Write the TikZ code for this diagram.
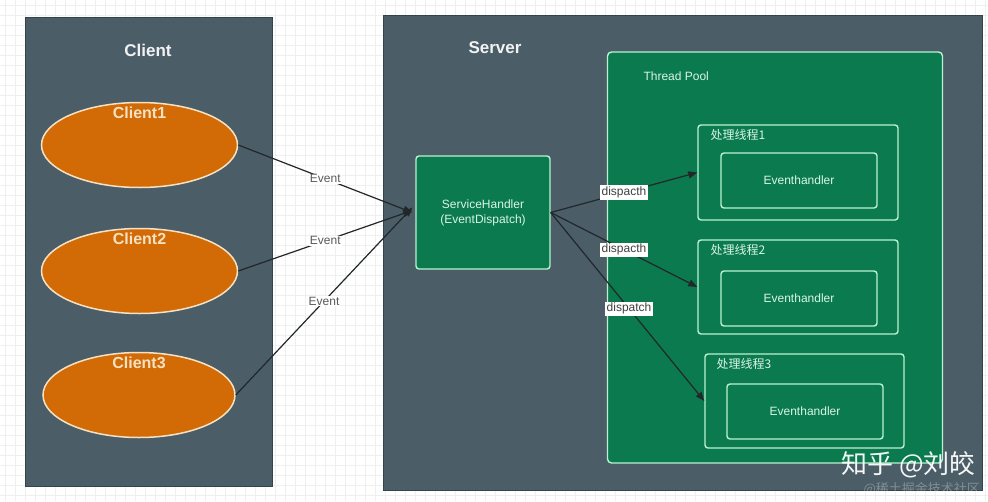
\documentclass[tikz,border=0pt]{standalone}
\usepackage{fontspec}
\usepackage{tikz}
\usetikzlibrary{arrows.meta,shapes.geometric,positioning}
\setmainfont{Liberation Sans}
\newfontfamily\cjk{Noto Sans CJK SC}
\definecolor{Slate}{HTML}{4B5D67}
\definecolor{SlateEdge}{HTML}{35434A}
\definecolor{Pumpkin}{HTML}{D26A06}
\definecolor{Cream}{HTML}{F6E2C2}
\definecolor{PoolGreen}{HTML}{0B7A4E}
\definecolor{Mint}{HTML}{B8F2D2}
\definecolor{MintText}{HTML}{D8F6E6}
\definecolor{Paper}{HTML}{EFEFEF}
\definecolor{Ink}{HTML}{22272A}

\begin{document}
\begin{tikzpicture}[x=1pt,y=-1pt,
    gridline/.style={draw=Paper,line width=0.5pt},
    panel/.style={draw=SlateEdge,fill=Slate,line width=1pt,inner sep=0pt},
    paneltitle/.style={text=white!92!Slate,font=\fontsize{17}{20}\selectfont\bfseries},
    client/.style={ellipse,draw=Cream,fill=Pumpkin,line width=1.5pt,minimum width=196pt,minimum height=85pt,inner sep=0pt},
    clientname/.style={anchor=north,text=Cream,font=\fontsize{16}{19}\selectfont\bfseries,inner sep=0pt},
    greenbox/.style={draw=Mint,fill=PoolGreen,line width=1.4pt,rounded corners=3pt,inner sep=0pt},
    greentext/.style={text=MintText,font=\fontsize{12}{15}\selectfont},
    flow/.style={draw=Ink,line width=1.2pt,-{Triangle[length=9pt,width=7pt]}},
    evlabel/.style={fill=white,text=black!65,inner sep=1pt,font=\fontsize{12}{14}\selectfont},
    dplabel/.style={fill=white,text=black!75,inner sep=1.5pt,font=\fontsize{12}{14}\selectfont}]
  \useasboundingbox (0,0) rectangle (988,501);
  \fill[white] (0,0) rectangle (988,501);
  % canvas grid
  \foreach \gx in {5,15,...,985} \draw[gridline] (\gx,0) -- (\gx,501);
  \foreach \gy in {5,15,...,495} \draw[gridline] (0,\gy) -- (988,\gy);

  % client side
  \node[panel,minimum width=247pt,minimum height=469pt] (clientpanel) at (148.5,252) {};
  \node[paneltitle] (clienttitle) at (148,50) {Client};
  \node[client] (c1) at (139.5,145) {};
  \node[client] (c2) at (139.5,271) {};
  \node[client,minimum width=192pt] (c3) at (139,395) {};
  \node[clientname] (c1name) at ([yshift=-5pt]c1.north) {Client1};
  \node[clientname] (c2name) at ([yshift=-5pt]c2.north) {Client2};
  \node[clientname] (c3name) at ([yshift=-5pt]c3.north) {Client3};

  % server side
  \node[panel,minimum width=599pt,minimum height=475pt] (serverpanel) at (682.5,252.5) {};
  \node[paneltitle] (servertitle) at (495,48) {Server};
  \node[greenbox,minimum width=134pt,minimum height=113pt] (sh) at (483,212.5) {};
  \node[greentext,align=center] (shtext) at (sh.center) {ServiceHandler\\(EventDispatch)};
  \node[greenbox,rounded corners=4pt,minimum width=335pt,minimum height=411pt] (pool) at (775,257.5) {};
  \node[greentext,anchor=west] (pooltitle) at (640,76) {Thread Pool};

  \node[greenbox,minimum width=200pt,minimum height=95pt] (t1) at (798,172.5) {};
  \node[greenbox,minimum width=156pt,minimum height=55pt] (e1) at (799,180.5) {};
  \node[greentext] (e1text) at (e1.center) {Eventhandler};
  \node[greentext,anchor=west,font=\cjk\fontsize{12}{14}\selectfont] (t1name) at (707,135) {处理线程1};

  \node[greenbox,minimum width=200pt,minimum height=94pt] (t2) at (798,287) {};
  \node[greenbox,minimum width=156pt,minimum height=55pt] (e2) at (799,298.5) {};
  \node[greentext] (e2text) at (e2.center) {Eventhandler};
  \node[greentext,anchor=west,font=\cjk\fontsize{12}{14}\selectfont] (t2name) at (707,250) {处理线程2};

  \node[greenbox,minimum width=199pt,minimum height=94pt] (t3) at (804.5,401) {};
  \node[greenbox,minimum width=156pt,minimum height=55pt] (e3) at (805,411.5) {};
  \node[greentext] (e3text) at (e3.center) {Eventhandler};
  \node[greentext,anchor=west,font=\cjk\fontsize{12}{14}\selectfont] (t3name) at (713,364) {处理线程3};

  % events into the handler
  \draw[flow] (c1.east) -- node[evlabel] {Event} ([xshift=-3pt,yshift=0pt]sh.west);
  \draw[flow] (c2.east) -- node[evlabel] {Event} ([xshift=-3pt,yshift=2pt]sh.west);
  \draw[flow] (c3.east) -- node[evlabel] {Event} ([xshift=-3pt,yshift=5pt]sh.west);

  % dispatch to the pool
  \draw[flow] (sh.east) -- node[dplabel] {dispacth} (t1.west);
  \draw[flow] (sh.east) -- node[dplabel] {dispacth} (t2.west);
  \draw[flow] (sh.east) -- node[dplabel,pos=0.51] {dispatch} (t3.west);

  % watermark
  \node[anchor=east,text=white,opacity=0.95,font=\cjk\fontsize{26}{30}\selectfont,inner sep=0pt] (mark) at (976,465) {知乎 @刘皎};
  \node[anchor=east,text=white,opacity=0.3,font=\cjk\fontsize{13}{15}\selectfont,inner sep=0pt] (mark2) at (980,489) {@稀土掘金技术社区};
\end{tikzpicture}
\end{document}
